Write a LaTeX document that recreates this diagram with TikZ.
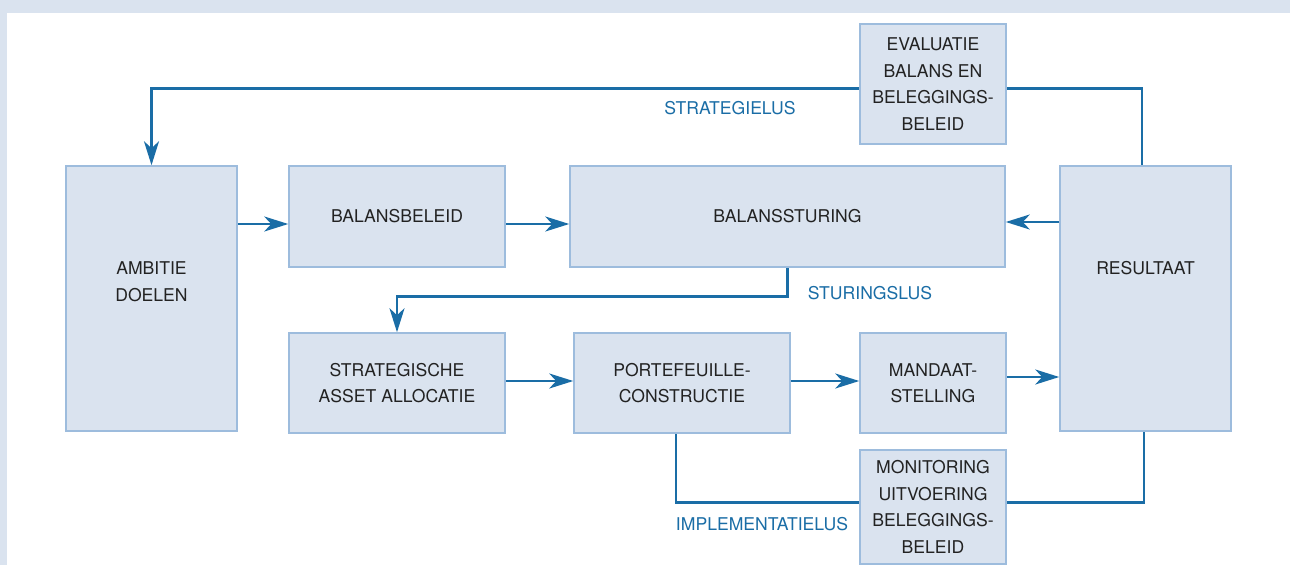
\documentclass[tikz,border=0pt]{standalone}
\usepackage{fontspec}
\setmainfont{TeX Gyre Heros}
\usetikzlibrary{arrows.meta}
\definecolor{vlak}{HTML}{DAE3EF}
\definecolor{rand}{HTML}{9DBCDD}
\definecolor{lusblauw}{HTML}{1A6DA6}
\definecolor{tekst}{HTML}{222222}
\pgfdeclarelayer{achter}
\pgfsetlayers{achter,main}
\tikzset{
  blok/.style={rectangle, draw=rand, line width=1.5pt, fill=vlak, text=tekst,
    align=center, inner sep=0pt, font=\fontsize{17.6}{26.5}\selectfont},
  lus/.style={draw=lusblauw, line width=2.6pt},
  pijl/.style={lus, -{Stealth[length=24pt, width=15pt, inset=7pt]}},
  luslabel/.style={text=lusblauw, inner sep=0pt, font=\fontsize{17.6}{20}\selectfont},
}

\begin{document}
\begin{tikzpicture}[x=1pt, y=-1pt]
   \useasboundingbox (0,0) rectangle (1290,565);
   % blokken
   \begin{scope}[every node/.style={blok}]
    \node[minimum width=171, minimum height=265,
      label={[draw=none, fill=none, yshift=17pt]center:AMBITIE\\DOELEN}] (ambitie) at (151.5,298.5) {};
    \node[minimum width=216, minimum height=101] (balansbeleid) at (397,216.5) {BALANSBELEID};
    \node[minimum width=435, minimum height=101] (balanssturing) at (787.5,216.5) {BALANSSTURING};
    \node[minimum width=171, minimum height=265,
      label={[draw=none, fill=none, yshift=30pt]center:RESULTAAT}] (resultaat) at (1145.5,298.5) {};
    \node[minimum width=146, minimum height=120] (evaluatie) at (933,84) {EVALUATIE\\BALANS EN\\BELEGGINGS-\\BELEID};
    \node[minimum width=216, minimum height=100] (strategische) at (397,383) {STRATEGISCHE\\ASSET ALLOCATIE};
    \node[minimum width=216, minimum height=100] (portefeuille) at (682,383) {PORTEFEUILLE-\\CONSTRUCTIE};
    \node[minimum width=146, minimum height=100] (mandaat) at (933,383) {MANDAAT-\\STELLING};
    \node[minimum width=146, minimum height=114] (monitoring) at (933,507) {MONITORING\\UITVOERING\\BELEGGINGS-\\BELEID};
   \end{scope}
   % lussen
   \node[luslabel] (strategielus) at (730,108) {STRATEGIELUS};
   \node[luslabel] (sturingslus) at (870,293) {STURINGSLUS};
   \node[luslabel] (implementatielus) at (762,524) {IMPLEMENTATIELUS};
   \begin{pgfonlayer}{achter}
    \fill[vlak] (0,0) rectangle (1290,565);
    \fill[white] (7,13) rectangle (1290,565);
    \draw[pijl] ([xshift=-3.5pt]resultaat.north) -- ++(0,-77) -| (ambitie.north);
    \draw[pijl] (balanssturing.south) -- ++(0,29) -| (strategische.north);
    \draw[lus] ([xshift=-6pt]portefeuille.south) -- ++(0,69) -| ([xshift=-1.5pt]resultaat.south);
   \end{pgfonlayer}
   \begin{scope}[every edge/.style={pijl}]
    \draw (ambitie.east |- 0,224) edge (balansbeleid.west |- 0,224);
    \draw (balansbeleid.east |- 0,224) edge (balanssturing.west |- 0,224);
    \draw (resultaat.west |- 0,222) edge (balanssturing.east |- 0,222);
    \draw (strategische.east |- 0,381) edge (portefeuille.west |- 0,381);
    \draw (portefeuille.east |- 0,381) edge (mandaat.west |- 0,381);
    \draw (mandaat.east |- 0,377) edge (resultaat.west |- 0,377);
   \end{scope}
\end{tikzpicture}
\end{document}
